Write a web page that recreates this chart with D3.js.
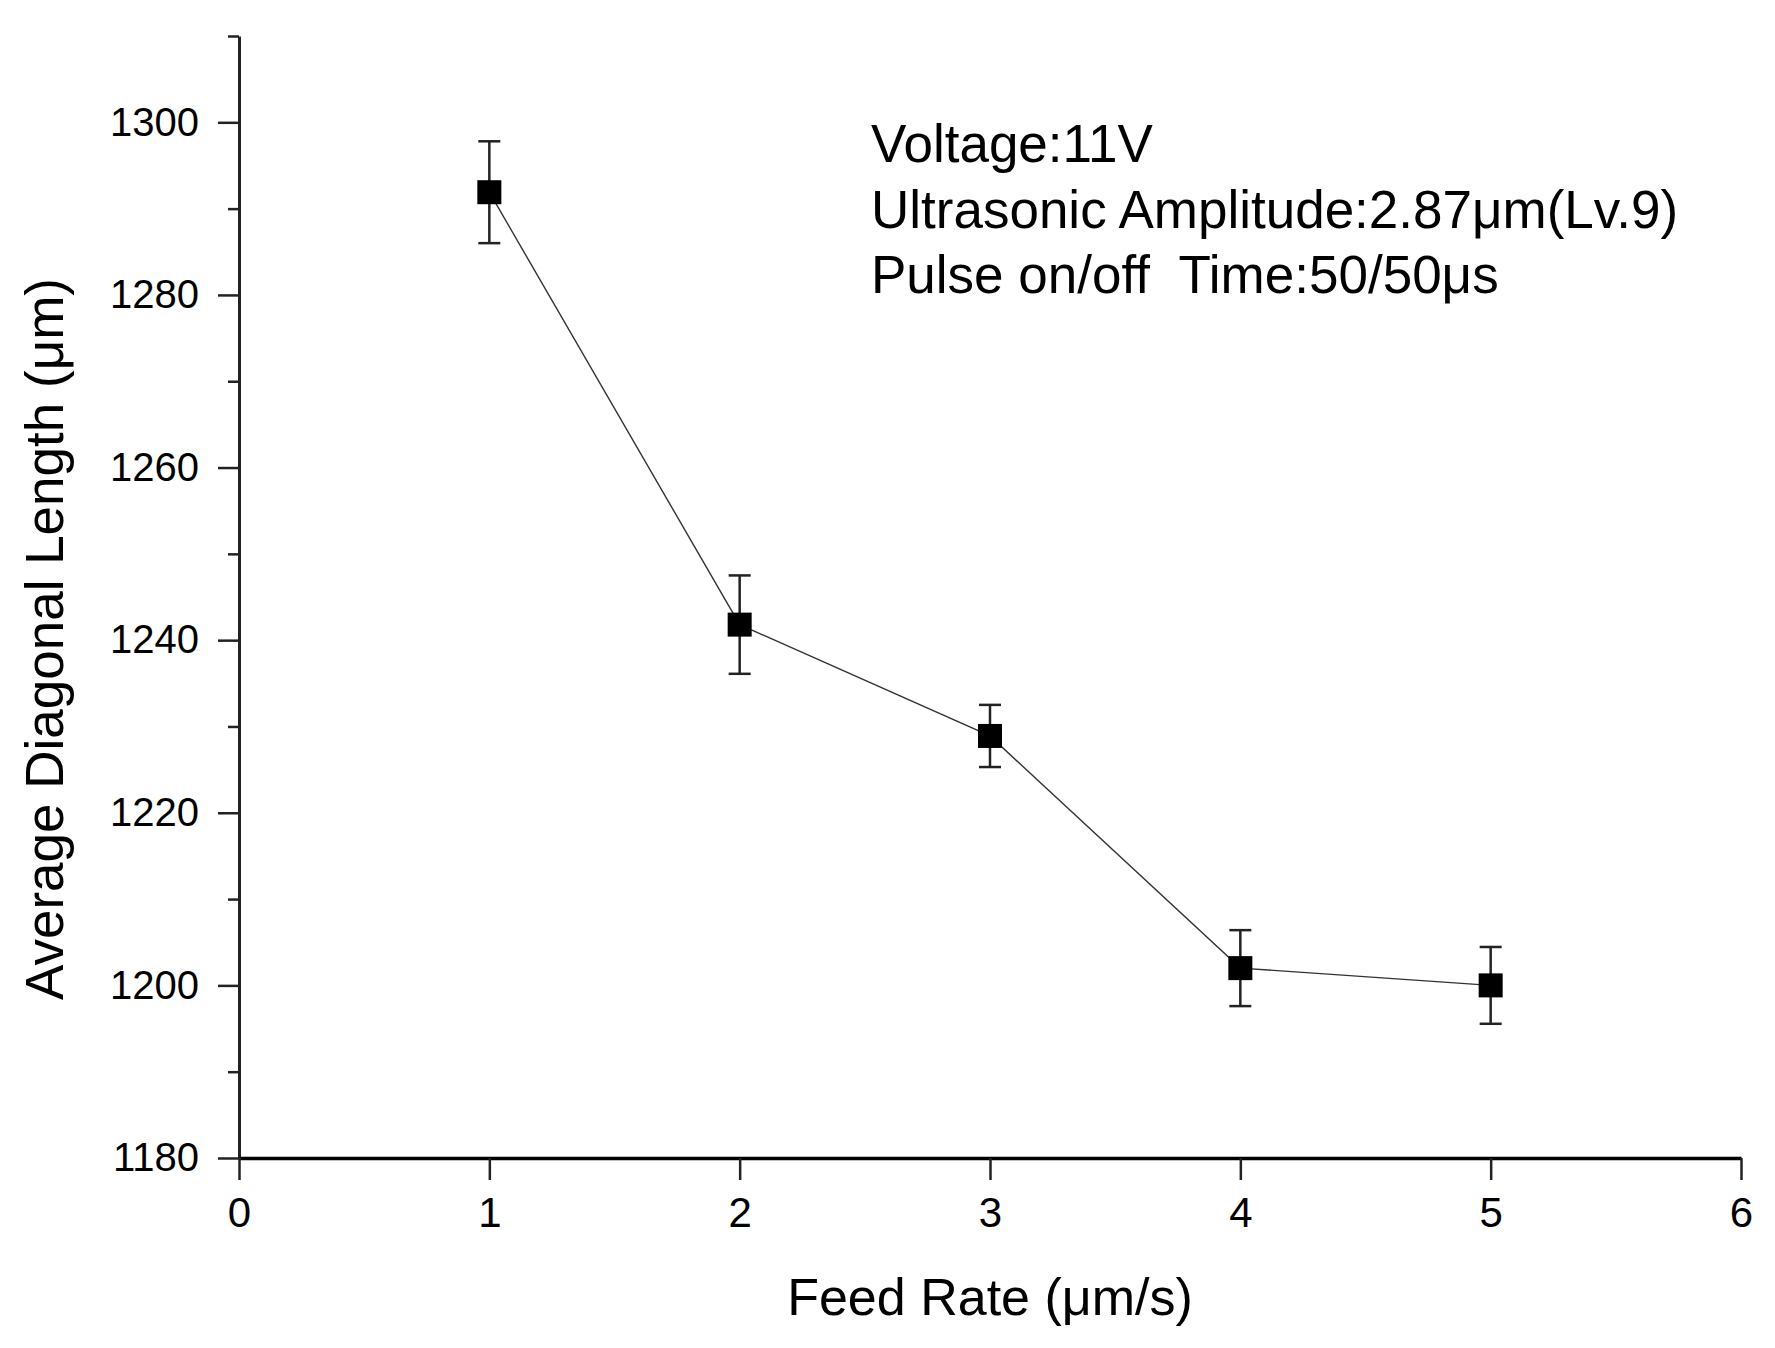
<!DOCTYPE html>
<html>
<head>
<meta charset="utf-8">
<script src="https://cdn.jsdelivr.net/npm/d3@7"></script>
<style>
    body { margin: 0; background: #ffffff; }
    text { font-family: "Liberation Sans", Arial, sans-serif; fill: #000; }
</style>
</head>
<body>
<div id="chart-container"></div>
<script>
const feedRates = [1, 2, 3, 4, 5];
const diagonalLengths = [1291.9, 1241.8, 1228.9, 1202.0, 1200.0];
const errorValues = [5.9, 5.7, 3.6, 4.4, 4.45];
const xTicks = [0, 1, 2, 3, 4, 5, 6];
const yTicks = [1180, 1200, 1220, 1240, 1260, 1280, 1300];
const yMinorTicks = [1190, 1210, 1230, 1250, 1270, 1290, 1310];
const notes = [
    "Voltage:11V",
    "Ultrasonic Amplitude:2.87\u03bcm(Lv.9)",
    "Pulse on/off  Time:50/50\u03bcs"
];

function renderChart() {
    const width = 1775;
    const height = 1348;
    const margin = { top: 36, right: 34, bottom: 190, left: 239 };

    const points = feedRates.map((x, i) => ({
        x: x,
        y: diagonalLengths[i],
        err: errorValues[i]
    }));

    const svg = d3.select("#chart-container").append("svg")
        .attr("width", width)
        .attr("height", height);

    const xScale = d3.scaleLinear()
        .domain([0, 6])
        .range([margin.left, width - margin.right]);

    const yScale = d3.scaleLinear()
        .domain([1180, 1310])
        .range([height - margin.bottom, margin.top]);

    // minor y ticks first, so the major axis sits on top
    svg.append("g")
        .attr("transform", `translate(${margin.left},0)`)
        .call(d3.axisLeft(yScale).tickValues(yMinorTicks).tickSize(11).tickFormat(""))
        .call(g => g.select(".domain").remove())
        .selectAll("line")
        .attr("stroke", "#222")
        .attr("stroke-width", 2.5);

    const yAxis = svg.append("g")
        .attr("transform", `translate(${margin.left},0)`)
        .call(d3.axisLeft(yScale)
            .tickValues(yTicks)
            .tickFormat(d3.format("d"))
            .tickSize(21)
            .tickSizeOuter(0)
            .tickPadding(19));
    yAxis.select(".domain").attr("stroke", "#222").attr("stroke-width", 3);
    yAxis.selectAll("line").attr("stroke", "#222").attr("stroke-width", 2.5);
    yAxis.selectAll("text")
        .style("font-size", "40px")
        .style("font-family", "'Liberation Sans', Arial, sans-serif")
        .attr("fill", "#000");

    const xAxis = svg.append("g")
        .attr("transform", `translate(0,${height - margin.bottom})`)
        .call(d3.axisBottom(xScale)
            .tickValues(xTicks)
            .tickFormat(d3.format("d"))
            .tickSize(22)
            .tickSizeOuter(0)
            .tickPadding(17));
    xAxis.select(".domain").attr("stroke", "#000").attr("stroke-width", 3.5);
    xAxis.selectAll("line").attr("stroke", "#222").attr("stroke-width", 2.5);
    xAxis.selectAll("text")
        .style("font-size", "42px")
        .style("font-family", "'Liberation Sans', Arial, sans-serif")
        .attr("fill", "#000");

    const line = d3.line()
        .x(d => xScale(d.x))
        .y(d => yScale(d.y));

    svg.append("path")
        .datum(points)
        .attr("d", line)
        .attr("fill", "none")
        .attr("stroke", "#333")
        .attr("stroke-width", 1.4);

    const capHalf = 11;
    const bars = svg.selectAll(".err")
        .data(points)
        .enter()
        .append("g")
        .attr("class", "err")
        .attr("stroke", "#222")
        .attr("stroke-width", 2.5);

    bars.append("line")
        .attr("x1", d => xScale(d.x))
        .attr("x2", d => xScale(d.x))
        .attr("y1", d => yScale(d.y - d.err))
        .attr("y2", d => yScale(d.y + d.err));

    bars.append("line")
        .attr("x1", d => xScale(d.x) - capHalf)
        .attr("x2", d => xScale(d.x) + capHalf)
        .attr("y1", d => yScale(d.y + d.err))
        .attr("y2", d => yScale(d.y + d.err));

    bars.append("line")
        .attr("x1", d => xScale(d.x) - capHalf)
        .attr("x2", d => xScale(d.x) + capHalf)
        .attr("y1", d => yScale(d.y - d.err))
        .attr("y2", d => yScale(d.y - d.err));

    const markSize = 24;
    svg.selectAll(".mark")
        .data(points)
        .enter()
        .append("rect")
        .attr("class", "mark")
        .attr("x", d => xScale(d.x) - markSize / 2)
        .attr("y", d => yScale(d.y) - markSize / 2)
        .attr("width", markSize)
        .attr("height", markSize)
        .attr("fill", "#000");

    svg.selectAll(".note")
        .data(notes)
        .enter()
        .append("text")
        .attr("class", "note")
        .attr("x", 871)
        .attr("y", (d, i) => 162 + i * 65.5)
        .style("font-size", "53px")
        .style("white-space", "pre")
        .attr("xml:space", "preserve")
        .text(d => d);

    svg.append("text")
        .attr("x", (xScale(0) + xScale(6)) / 2)
        .attr("y", 1315)
        .attr("text-anchor", "middle")
        .style("font-size", "52px")
        .text("Feed Rate (\u03bcm/s)");

    svg.append("text")
        .attr("transform", "translate(63,639) rotate(-90)")
        .attr("text-anchor", "middle")
        .style("font-size", "53px")
        .text("Average Diagonal Length (\u03bcm)");
}

window.onload = () => renderChart();
</script>
</body>
</html>
